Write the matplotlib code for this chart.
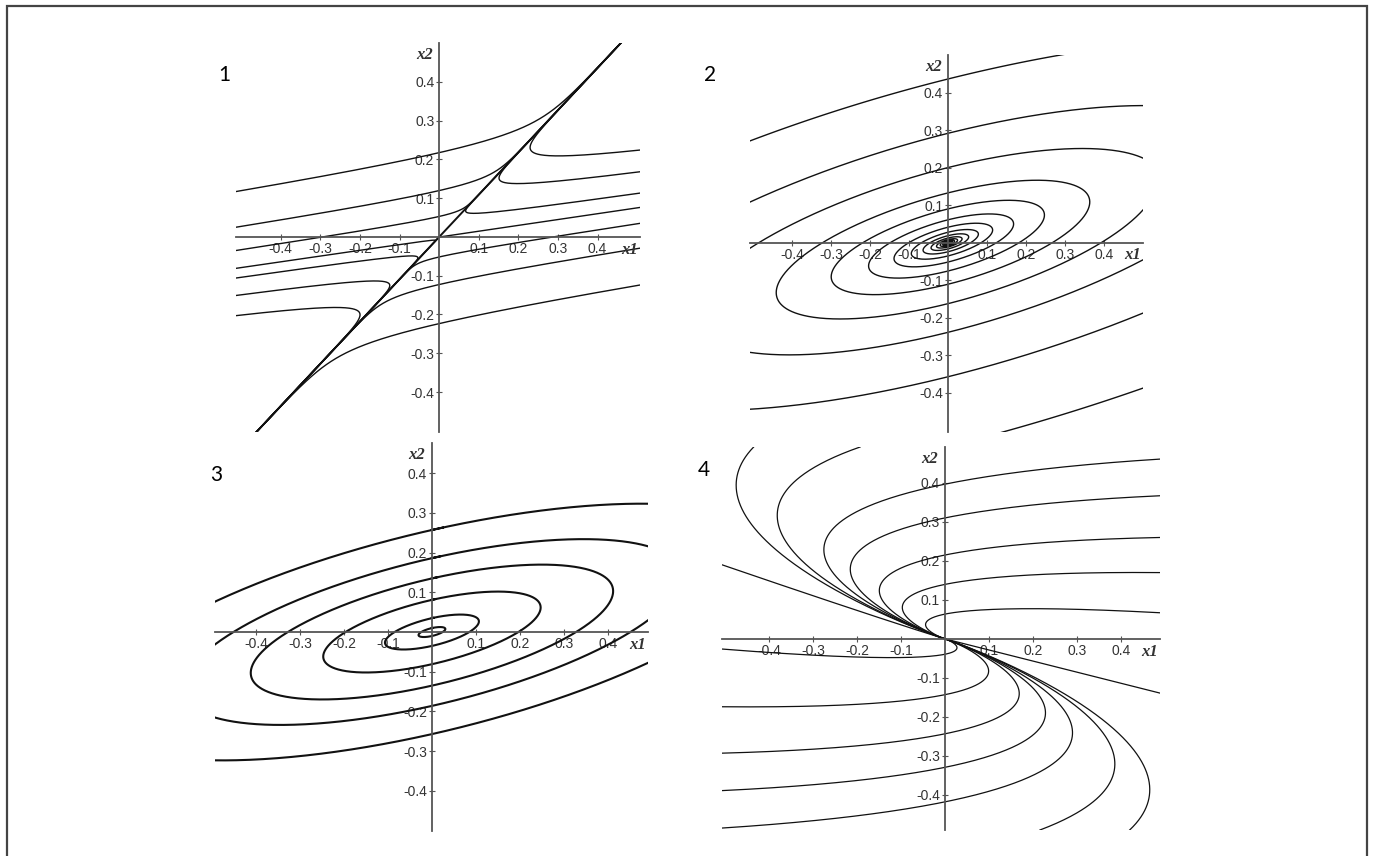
import numpy as np
import matplotlib.pyplot as plt
from matplotlib.patches import Rectangle

plt.rcParams['axes.unicode_minus'] = False

# tick marks shared by all four panels
tick_vals = [-0.4, -0.3, -0.2, -0.1, 0.1, 0.2, 0.3, 0.4]
tick_labels = ['-0.4', '-0.3', '-0.2', '-0.1', '0.1', '0.2', '0.3', '0.4']

# panel 1: saddle, eigenvectors (x1, x2) and eigenvalues
p1_vectors = [[1.0, 1.09], [1.0, 0.15]]
p1_eigvals = [1.0, -10.0]
p1_left_y = [0.117, 0.025, -0.035, -0.081, -0.106, -0.151, -0.203]
p1_right_y = [0.224, 0.168, 0.113, 0.076, 0.035, -0.029, -0.124]

# panel 2: stable focus
p2_matrix = [[-0.601, 2.0], [-0.38, 0.519]]
p2_left_y = [0.272, 0.109, -0.014]
p2_right_y = [0.088, -0.045, -0.187, -0.387]

# panel 3: centre, orbits given by their crossing of the x2 axis
p3_matrix = [[-0.5, 2.0], [-0.34, 0.5]]
p3_x2_cross = [0.01, 0.035, 0.081, 0.135, 0.186, 0.257]

# panel 4: degenerate node, eigenvector + generalised vector, Jordan block
p4_vectors = [[1.0, -0.3], [0.0, 0.53]]
p4_jordan = [[-1.0, -1.0], [0.0, -1.0]]
p4_right_y = [0.461, 0.367, 0.26, 0.17, 0.067, -0.139]
p4_left_y = [0.19, -0.026, -0.174, -0.293, -0.389, -0.485]
p4_top_x = [-0.435, -0.193]
p4_bottom_x = [0.42, 0.216]


def flow(A, p0, dt, t_max, xlim=None, ylim=None, r_stop=1e-3):
    # linear system, one RK4 step written as a matrix
    h = dt * np.asarray(A, float)
    M = np.eye(2) + h + h @ h / 2 + h @ h @ h / 6 + h @ h @ h @ h / 24
    p = np.asarray(p0, float)
    pts = [p]
    for _ in range(int(t_max / dt)):
        p = M @ p
        pts.append(p)
        if xlim is not None:
            if not (xlim[0] - 0.02 < p[0] < xlim[1] + 0.02 and ylim[0] - 0.02 < p[1] < ylim[1] + 0.02):
                break
        if np.hypot(p[0], p[1]) < r_stop:
            break
    return np.array(pts)


def setup(ax, xlim, ylim):
    ax.set_xlim(xlim)
    ax.set_ylim(ylim)
    ax.patch.set_alpha(0)
    for s in ['top', 'right']:
        ax.spines[s].set_visible(False)
    for s in ['left', 'bottom']:
        ax.spines[s].set_position('zero')
        ax.spines[s].set_color('#555555')
        ax.spines[s].set_linewidth(1.3)
    ax.set_xticks(tick_vals)
    ax.set_xticklabels(tick_labels)
    ax.set_yticks(tick_vals)
    ax.set_yticklabels(tick_labels)
    ax.tick_params(direction='inout', length=5, width=0.8, colors='#555555',
                   labelcolor='#333333', labelsize=10, pad=1)
    for lab in ax.get_xticklabels() + ax.get_yticklabels():
        lab.set_family('Liberation Sans')
    ax.text(xlim[1] - 0.005, -0.012, 'x1', ha='right', va='top', family='Liberation Serif',
            style='italic', weight='bold', size=12, color='#333333')
    ax.text(-0.015, ylim[1] - 0.01, 'x2', ha='right', va='top', family='Liberation Serif',
            style='italic', weight='bold', size=12, color='#333333')


fig = plt.figure(figsize=(13.75, 8.56), dpi=100)
W, H = 1375, 856

ax1 = fig.add_axes([236 / W, 1 - 432 / H, 404 / W, 389 / H])
ax2 = fig.add_axes([750 / W, 1 - 432 / H, 393 / W, 377 / H])
ax3 = fig.add_axes([215 / W, 1 - 831 / H, 433 / W, 388 / H])
ax4 = fig.add_axes([722 / W, 1 - 830 / H, 438 / W, 383 / H])

lims = {
    ax1: ((-0.513, 0.507), (-0.503, 0.5)),
    ax2: ((-0.508, 0.5), (-0.504, 0.501)),
    ax3: ((-0.493, 0.491), (-0.501, 0.476)),
    ax4: ((-0.507, 0.489), (-0.49, 0.492)),
}
for ax, (xl, yl) in lims.items():
    setup(ax, xl, yl)

# panel 1
V1 = np.array(p1_vectors).T
A1 = V1 @ np.diag(p1_eigvals) @ np.linalg.inv(V1)
xl, yl = lims[ax1]
starts = [(xl[0], y) for y in p1_left_y] + [(xl[1], y) for y in p1_right_y]
for p0 in starts:
    tr = flow(A1, p0, 0.001, 20, xl, yl, r_stop=1e-9)
    ax1.plot(tr[:, 0], tr[:, 1], color='#111111', lw=1.0)
for s in [1e-5, -1e-5]:
    tr = flow(A1, (s * V1[0, 0], s * V1[1, 0]), 0.002, 20, xl, yl, r_stop=1e-9)
    ax1.plot(tr[:, 0], tr[:, 1], color='#111111', lw=1.4)

# panel 2
xl, yl = lims[ax2]
starts = [(xl[0], y) for y in p2_left_y] + [(xl[1], y) for y in p2_right_y]
for p0 in starts:
    tr = flow(p2_matrix, p0, 0.01, 150, xl, yl, r_stop=1.5e-3)
    ax2.plot(tr[:, 0], tr[:, 1], color='#111111', lw=1.0)

# panel 3
period = 2 * np.pi / np.sqrt(np.linalg.det(np.array(p3_matrix)))
for y0 in p3_x2_cross:
    tr = flow(p3_matrix, (0.0, y0), 0.01, period + 0.05)
    ax3.plot(tr[:, 0], tr[:, 1], color='#111111', lw=1.5)

# panel 4
V4 = np.array(p4_vectors).T
A4 = V4 @ np.array(p4_jordan) @ np.linalg.inv(V4)
xl, yl = lims[ax4]
starts = ([(xl[1], y) for y in p4_right_y] + [(xl[0], y) for y in p4_left_y]
          + [(x, yl[1]) for x in p4_top_x] + [(x, yl[0]) for x in p4_bottom_x])
for p0 in starts:
    tr = flow(A4, p0, 0.005, 40, xl, yl, r_stop=1e-4)
    ax4.plot(tr[:, 0], tr[:, 1], color='#111111', lw=0.9)

# panel numbers
for txt, x, y in [('1', 224, 75), ('2', 710, 75), ('3', 216, 475), ('4', 704, 470)]:
    fig.text(x / W, 1 - y / H, txt, ha='center', va='center', family='Lato', size=15)

# outer frame (open at the bottom edge of the image)
fig.add_artist(Rectangle((7 / W, -0.01), 1360 / W, 1 - 6 / H + 0.01, transform=fig.transFigure,
                         fill=False, edgecolor='#444444', lw=1.6))

fig.savefig('out.png', dpi=100)
